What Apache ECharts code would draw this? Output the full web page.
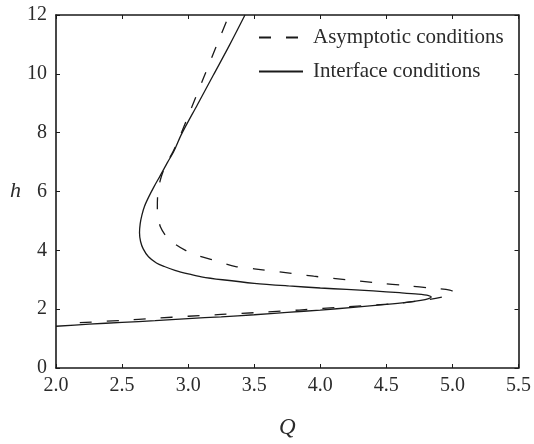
<!DOCTYPE html>
<html>
<head>
<meta charset="utf-8">
<script src="https://cdn.jsdelivr.net/npm/echarts@6/dist/echarts.min.js"></script>
<style>
  html, body { margin: 0; padding: 0; background: #fff; }
  #chart { width: 534px; height: 444px; }
</style>
</head>
<body>
<div id="chart"></div>
<script>
// Flow depth h against discharge Q for two sets of boundary conditions.
const asymptoticQ = [2.18, 2.5, 2.75, 3.0, 3.25, 3.5, 3.84, 4.2, 4.59, 4.8, 4.93, 4.99, 5.01, 4.98, 4.85, 4.65, 4.44, 4.2, 3.95, 3.69, 3.5, 3.36, 3.18, 3.07, 2.98, 2.89, 2.83, 2.79, 2.775, 2.767, 2.77, 2.79, 2.83, 2.885, 2.94, 3.03, 3.12, 3.21, 3.31];
const asymptoticH = [1.54, 1.62, 1.69, 1.76, 1.82, 1.88, 1.97, 2.08, 2.2, 2.31, 2.42, 2.5, 2.58, 2.65, 2.71, 2.8, 2.89, 3.0, 3.12, 3.27, 3.37, 3.45, 3.68, 3.83, 4.0, 4.25, 4.5, 4.8, 5.1, 5.45, 5.9, 6.4, 6.9, 7.35, 7.9, 8.9, 9.9, 10.9, 12.0];

const interfaceQ = [2.0, 2.25, 2.5, 2.75, 3.0, 3.25, 3.5, 3.75, 4.0, 4.25, 4.5, 4.65, 4.76, 4.82, 4.84, 4.82, 4.74, 4.6, 4.4, 4.2, 4.0, 3.76, 3.5, 3.26, 3.1, 3.01, 2.9, 2.82, 2.76, 2.7, 2.66, 2.64, 2.632, 2.637, 2.65, 2.67, 2.7, 2.74, 2.79, 2.845, 2.89, 2.95, 3.07, 3.19, 3.31, 3.43];
const interfaceH = [1.42, 1.49, 1.55, 1.61, 1.68, 1.74, 1.81, 1.89, 1.97, 2.06, 2.16, 2.23, 2.3, 2.36, 2.41, 2.46, 2.51, 2.56, 2.62, 2.67, 2.72, 2.79, 2.88, 3.0, 3.1, 3.19, 3.32, 3.45, 3.57, 3.78, 4.05, 4.3, 4.6, 4.9, 5.2, 5.5, 5.8, 6.15, 6.55, 7.0, 7.35, 7.95, 8.95, 9.95, 10.95, 12.0];

const seriesNames = ['Asymptotic conditions', 'Interface conditions'];
const xTicks = { min: 2.0, max: 5.5, step: 0.5 };
const yTicks = { min: 0, max: 12, step: 2 };

const pairs = (qs, hs) => qs.map((q, i) => [q, hs[i]]);

const ink = '#1a1a1a';
const textInk = '#2b2b2b';
const serif = '"Liberation Serif", "DejaVu Serif", serif';

function frameAxis(extra) {
  return Object.assign({
    type: 'value',
    axisLine: { show: true, onZero: false, lineStyle: { color: ink, width: 1.6 } },
    axisTick: { show: true, inside: true, length: 4, lineStyle: { color: ink, width: 1 } },
    splitLine: { show: false }
  }, extra);
}

const chart = echarts.init(document.getElementById('chart'), null, { renderer: 'canvas' });

chart.setOption({
  animation: false,
  backgroundColor: '#fff',
  grid: { left: 56, right: 13, top: 15, bottom: 64, containLabel: false },
  legend: {
    orient: 'vertical',
    left: 258,
    top: 27,
    padding: 0,
    itemWidth: 44,
    itemHeight: 20,
    itemGap: 13,
    data: seriesNames,
    // line-only keys: hide the marker drawn in the middle of each key
    itemStyle: { opacity: 0 },
    textStyle: { fontFamily: serif, fontSize: 21, color: textInk, padding: [0, 0, 0, 5] }
  },
  xAxis: [
    frameAxis({
      min: xTicks.min, max: xTicks.max, interval: xTicks.step,
      position: 'bottom',
      name: 'Q',
      nameLocation: 'middle',
      nameGap: 48,
      nameTextStyle: { fontFamily: serif, fontStyle: 'italic', fontSize: 23, color: textInk },
      axisLabel: {
        margin: 8, fontFamily: serif, fontSize: 20, color: textInk,
        formatter: v => v.toFixed(1)
      }
    }),
    frameAxis({
      min: xTicks.min, max: xTicks.max, interval: xTicks.step,
      position: 'top',
      axisLabel: { show: false }
    })
  ],
  yAxis: [
    frameAxis({
      min: yTicks.min, max: yTicks.max, interval: yTicks.step,
      position: 'left',
      name: 'h',
      nameLocation: 'middle',
      nameRotate: 0,
      nameGap: 33,
      nameTextStyle: { fontFamily: serif, fontStyle: 'italic', fontSize: 22, color: textInk },
      axisLabel: { margin: 9, fontFamily: serif, fontSize: 20, color: textInk }
    }),
    frameAxis({
      min: yTicks.min, max: yTicks.max, interval: yTicks.step,
      position: 'right',
      axisLabel: { show: false }
    })
  ],
  series: [
    {
      name: seriesNames[0],
      type: 'line',
      xAxisIndex: 0,
      yAxisIndex: 0,
      data: pairs(asymptoticQ, asymptoticH),
      symbol: 'none',
      smooth: 0.3,
      clip: true,
      lineStyle: { color: ink, width: 1.3, type: [12, 15] },
      itemStyle: { color: ink }
    },
    {
      name: seriesNames[1],
      type: 'line',
      xAxisIndex: 0,
      yAxisIndex: 0,
      data: pairs(interfaceQ, interfaceH),
      symbol: 'none',
      smooth: 0.3,
      clip: true,
      lineStyle: { color: ink, width: 1.3, type: 'solid' },
      itemStyle: { color: ink }
    }
  ]
});
</script>
</body>
</html>
